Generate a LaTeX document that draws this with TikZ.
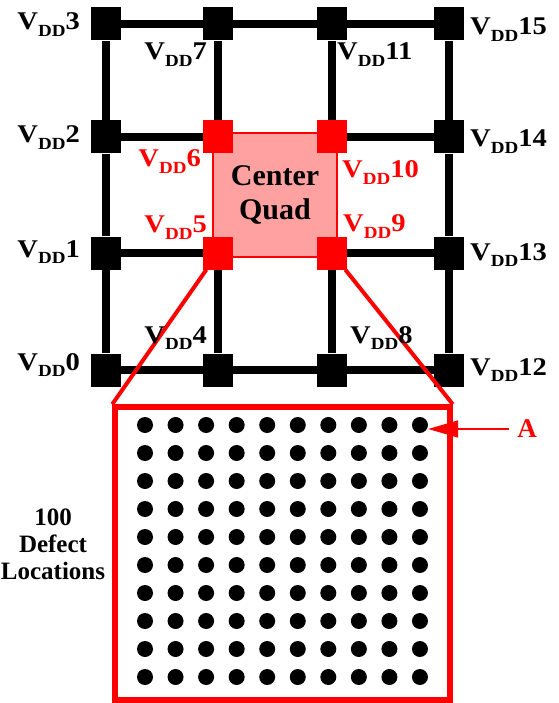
\documentclass[tikz,border=0pt]{standalone}
\usepackage{fontspec}
\setmainfont{Liberation Serif}[BoldFont={Liberation Serif Bold}]
\newfontfamily\vddfont{Liberation Serif Bold}[FakeStretch=1.12]
\usepackage{tikz}
\usetikzlibrary{arrows.meta,positioning}
\pgfdeclarelayer{background}
\pgfsetlayers{background,main}
\newcommand{\vdd}[1]{V\raisebox{-6.5pt}{\fontsize{17}{17}\selectfont DD}#1}

\begin{document}
\begin{tikzpicture}[x=1pt,y=-1pt,
  blk/.style={fill=black,minimum width=30,minimum height=33,inner sep=0},
  hot/.style={fill=red,minimum width=30,minimum height=33,inner sep=0},
  lab/.style={inner sep=0,font=\vddfont\fontsize{25.5}{27}\selectfont},
  dot/.style={circle,fill=black,minimum size=16,inner sep=0},
  wire/.style={line width=7.5,black},
  zoomline/.style={red,line width=4}]
  \useasboundingbox (0,0) rectangle (558,703);

  % Supply pads
  \foreach \k/\x/\y in {0/106/370,1/106/253,2/106/137,3/106/24,
                        4/218/370,7/218/24,8/332/370,11/332/24,
                        12/449/370,13/449/253,14/449/137,15/449/24}
    \node[blk] (v\k) at (\x,\y) {};

  % Center quad
  \node[draw=red,line width=2,fill=red!37,minimum size=124,inner sep=0,
        align=center,font=\bfseries\fontsize{30}{33}\selectfont] (quad) at (275,195) {Center\\Quad};
  \foreach \k/\x/\y in {5/218/253,6/218/137,9/332/253,10/332/137}
    \node[hot] (v\k) at (\x,\y) {};

  % Grid wires
  \begin{pgfonlayer}{background}
    \foreach \a/\b/\c/\d in {0/1/2/3,4/5/6/7,8/9/10/11,12/13/14/15,
                             0/4/8/12,1/5/9/13,2/6/10/14,3/7/11/15}
      \draw[wire] (v\a) -- (v\b) -- (v\c) -- (v\d);
  \end{pgfonlayer}

  % Zoomed defect field
  \node[draw=red,line width=5.5,minimum width=335,minimum height=293,inner sep=0] (field) at (282.5,553.5) {};
  \draw[zoomline] (v5) -- (field.north west);
  \draw[zoomline] (v9) -- (field.north east);

  \foreach \i in {0,...,9}
    \foreach \j in {0,...,9}
      \node[dot] (d-\i-\j) at ({145+30.55*\i},{425+28*\j}) {};

  \node[align=center,font=\bfseries\fontsize{25}{27}\selectfont] (count) at (53,544) {100\\Defect\\Locations};

  % Marker A
  \node[text=red,inner sep=0,font=\bfseries\fontsize{27}{27}\selectfont] (alab) at (527,429) {A};
  \draw[red,line width=1.5,shorten <=8,-{Triangle[length=30,width=17]}] (alab) -- (alab -| d-9-0.east);

  % Pad labels
  \node[lab,anchor=base east] (l3) at (80,30) {\vdd{3}};
  \node[lab,anchor=base east] (l2) at (80,143) {\vdd{2}};
  \node[lab,anchor=base east] (l1) at (80,257) {\vdd{1}};
  \node[lab,anchor=base east] (l0) at (80,370) {\vdd{0}};
  \node[lab,anchor=base east] (l7) at (207,60) {\vdd{7}};
  \node[lab,anchor=base east,text=red] (l6) at (201,167) {\vdd{6}};
  \node[lab,anchor=base east,text=red] (l5) at (207,233) {\vdd{5}};
  \node[lab,anchor=base east] (l4) at (207,343) {\vdd{4}};
  \node[lab,anchor=base west] (l11) at (337,60) {\vdd{11}};
  \node[lab,anchor=base west,text=red] (l10) at (342,178) {\vdd{10}};
  \node[lab,anchor=base west,text=red] (l9) at (343,232) {\vdd{9}};
  \node[lab,anchor=base west] (l8) at (350,343) {\vdd{8}};
  \node[lab,anchor=base west] (l15) at (470,35) {\vdd{15}};
  \node[lab,anchor=base west] (l14) at (470,147) {\vdd{14}};
  \node[lab,anchor=base west] (l13) at (470,260) {\vdd{13}};
  \node[lab,anchor=base west] (l12) at (470,375) {\vdd{12}};
\end{tikzpicture}
\end{document}
